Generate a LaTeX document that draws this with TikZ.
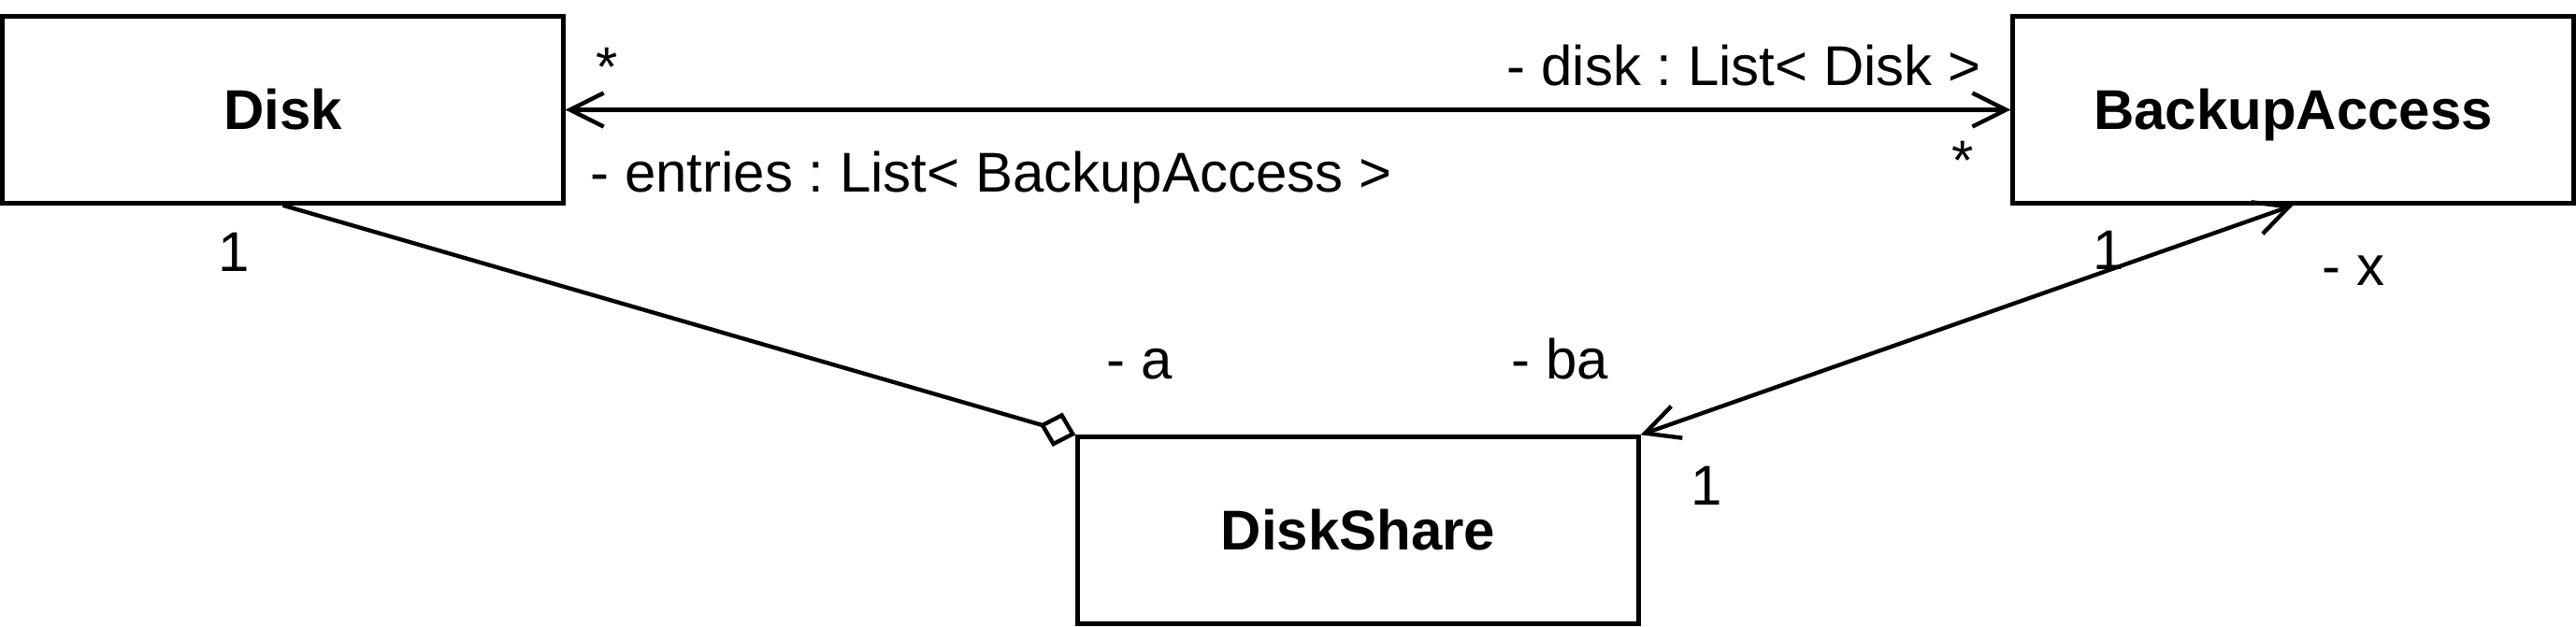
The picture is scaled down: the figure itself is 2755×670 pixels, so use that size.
\documentclass[tikz,border=0pt]{standalone}
\usepackage{fontspec}
\setmainfont{Liberation Sans}
\usetikzlibrary{arrows.meta}
\frenchspacing
\begin{document}
\begin{tikzpicture}[x=0.5pt,y=-0.5pt,
  cls/.style={draw, line width=2.2pt, minimum width=300pt, minimum height=100pt, inner sep=0pt,
    text height=21pt, text depth=0pt, font=\bfseries\fontsize{30pt}{36pt}\selectfont},
  lbl/.style={inner sep=0pt, font=\fontsize{30pt}{36pt}\selectfont},
  conn/.style={line width=2.2pt},
  vtip/.tip={Straight Barb[length=18pt,width=18pt]},
  dtip/.tip={Diamond[open,length=20pt,width=19pt]}
]
\useasboundingbox (0,0) rectangle (2755,670);
\node[cls] (disk) at (302.5,117.5) {Disk};
\node[cls] (ba) at (2452.5,117.5) {BackupAccess};
\node[cls] (ds) at (1452.5,567.5) {DiskShare};

\draw[conn, vtip-vtip] (disk.east) -- (ba.west);
\draw[conn, -dtip] (disk.south) -- (ds.north west);
\draw[conn, vtip-vtip] (ds.north east) -- (ba.south);

\node[lbl, anchor=base] (m1) at (649,92) {*};
\node[lbl, anchor=base west] (r1) at (631,205) {- entries : List< BackupAccess >};
\node[lbl, anchor=base east] (r2) at (2119,91) {- disk : List< Disk >};
\node[lbl, anchor=base] (m2) at (2099,192) {*};
\node[lbl, anchor=base] (m3) at (250,290) {1};
\node[lbl, anchor=base west] (r3) at (1183,405) {- a};
\node[lbl, anchor=base west] (r4) at (1616,405) {- ba};
\node[lbl, anchor=base] (m4) at (1825,540) {1};
\node[lbl, anchor=base] (m5) at (2255,288) {1};
\node[lbl, anchor=base west] (r5) at (2483,305) {- x};
\end{tikzpicture}
\end{document}
